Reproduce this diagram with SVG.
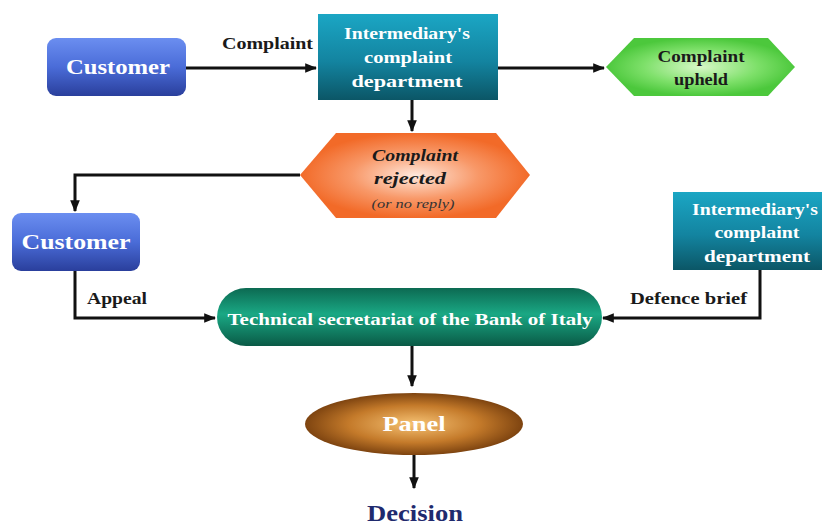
<svg xmlns="http://www.w3.org/2000/svg" width="835" height="525" viewBox="0 0 835 525">
<defs>
<linearGradient id="gBlue" x1="0" y1="0" x2="0" y2="1"><stop offset="0" stop-color="#6b8ef0"/><stop offset="0.5" stop-color="#4a6cd8"/><stop offset="1" stop-color="#2a3f9c"/></linearGradient>
<linearGradient id="gTeal" x1="0" y1="0" x2="0" y2="1"><stop offset="0" stop-color="#1ba6c4"/><stop offset="0.55" stop-color="#1384a0"/><stop offset="1" stop-color="#0b5666"/></linearGradient>
<radialGradient id="gGreen" cx="0.5" cy="0.5" r="0.5"><stop offset="0" stop-color="#d8f8c8"/><stop offset="0.6" stop-color="#7ee06a"/><stop offset="1" stop-color="#4cc83c"/></radialGradient>
<radialGradient id="gOrange" cx="0.5" cy="0.5" r="0.5"><stop offset="0" stop-color="#ffe8dc"/><stop offset="0.55" stop-color="#f89868"/><stop offset="1" stop-color="#f26a28"/></radialGradient>
<linearGradient id="gSea" x1="0" y1="0" x2="0" y2="1"><stop offset="0" stop-color="#0c6a52"/><stop offset="0.45" stop-color="#1aa884"/><stop offset="1" stop-color="#0a5a46"/></linearGradient>
<radialGradient id="gBrown" cx="0.5" cy="0.5" r="0.5"><stop offset="0" stop-color="#f6c274"/><stop offset="0.6" stop-color="#c47a2a"/><stop offset="1" stop-color="#7e4410"/></radialGradient>
<marker id="ah" viewBox="0 0 10 10" refX="9" refY="5" markerWidth="4" markerHeight="4" orient="auto" markerUnits="strokeWidth"><path d="M0,1 L10,5 L0,9 z" fill="#111"/></marker>
</defs>
<style>
.c{fill:none;stroke:#111;stroke-width:3;marker-end:url(#ah)}
.w{font-family:"Liberation Serif",serif;font-weight:bold;fill:#fff;text-anchor:middle}
.d{font-family:"Liberation Serif",serif;font-weight:bold;fill:#1a1a1a;text-anchor:middle}
.l{font-family:"Liberation Serif",serif;font-weight:bold;fill:#1a1a1a;font-size:17px}
</style>
<rect width="835" height="525" fill="#fff"/>
<g id="connectors">
<path class="c" d="M186,68 H316"/>
<path class="c" d="M498,68 H604"/>
<path class="c" d="M412,100 V131"/>
<path class="c" d="M300,175 H75 V211"/>
<path class="c" d="M75,271 V318 H215"/>
<path class="c" d="M760,270 V318 H603"/>
<path class="c" d="M412,346 V386"/>
<path class="c" d="M414,455 V488"/>
<text class="l" x="222" y="49" textLength="91" lengthAdjust="spacingAndGlyphs">Complaint</text>
<text class="l" x="87" y="304" textLength="60" lengthAdjust="spacingAndGlyphs">Appeal</text>
<text class="l" x="630" y="304" textLength="117" lengthAdjust="spacingAndGlyphs">Defence brief</text>
</g>
<g id="customer1">
<rect x="47" y="38" width="139" height="58" rx="9" fill="url(#gBlue)"/>
<text class="w" x="118" y="74" font-size="22" textLength="104" lengthAdjust="spacingAndGlyphs">Customer</text>
</g>
<g id="intermediary1">
<rect x="318" y="14" width="180" height="86" fill="url(#gTeal)"/>
<text class="w" x="407" y="39" font-size="17" textLength="126" lengthAdjust="spacingAndGlyphs">Intermediary's</text>
<text class="w" x="408" y="63" font-size="17" textLength="88" lengthAdjust="spacingAndGlyphs">complaint</text>
<text class="w" x="407" y="87" font-size="17" textLength="111" lengthAdjust="spacingAndGlyphs">department</text>
</g>
<g id="upheld">
<polygon points="606,67 634,38 768,38 795,67 768,96 634,96" fill="url(#gGreen)"/>
<text class="d" x="701" y="62" font-size="17" textLength="87" lengthAdjust="spacingAndGlyphs">Complaint</text>
<text class="d" x="701" y="85" font-size="17" textLength="54" lengthAdjust="spacingAndGlyphs">upheld</text>
</g>
<g id="rejected">
<polygon points="300,175 336,133 496,133 530,175 496,218 336,218" fill="url(#gOrange)"/>
<text class="d" x="415" y="161" font-size="17" font-style="italic" textLength="86" lengthAdjust="spacingAndGlyphs">Complaint</text>
<text class="d" x="410" y="184" font-size="17" font-style="italic" textLength="72" lengthAdjust="spacingAndGlyphs">rejected</text>
<text x="413" y="208" font-family="Liberation Serif,serif" font-style="italic" font-size="13" fill="#333" text-anchor="middle" textLength="83" lengthAdjust="spacingAndGlyphs">(or no reply)</text>
</g>
<g id="customer2">
<rect x="12" y="213" width="128" height="58" rx="9" fill="url(#gBlue)"/>
<text class="w" x="76" y="249" font-size="22" textLength="109" lengthAdjust="spacingAndGlyphs">Customer</text>
</g>
<g id="intermediary2">
<rect x="673" y="192" width="149" height="78" fill="url(#gTeal)"/>
<text class="w" x="755" y="215" font-size="17" textLength="126" lengthAdjust="spacingAndGlyphs">Intermediary's</text>
<text class="w" x="757" y="238" font-size="17" textLength="85" lengthAdjust="spacingAndGlyphs">complaint</text>
<text class="w" x="757" y="262" font-size="17" textLength="106" lengthAdjust="spacingAndGlyphs">department</text>
</g>
<g id="secretariat">
<rect x="217" y="288" width="385" height="58" rx="29" fill="url(#gSea)"/>
<text class="w" x="410" y="325" font-size="17" textLength="365" lengthAdjust="spacingAndGlyphs">Technical secretariat of the Bank of Italy</text>
</g>
<g id="panel">
<ellipse cx="414" cy="424" rx="109" ry="31" fill="url(#gBrown)"/>
<text class="w" x="414" y="431" font-size="21" textLength="63" lengthAdjust="spacingAndGlyphs">Panel</text>
</g>
<g id="decision">
<text x="415" y="521" font-family="Liberation Serif,serif" font-weight="bold" font-size="23" fill="#1f2a6e" text-anchor="middle" textLength="96" lengthAdjust="spacingAndGlyphs">Decision</text>
</g>
</svg>
